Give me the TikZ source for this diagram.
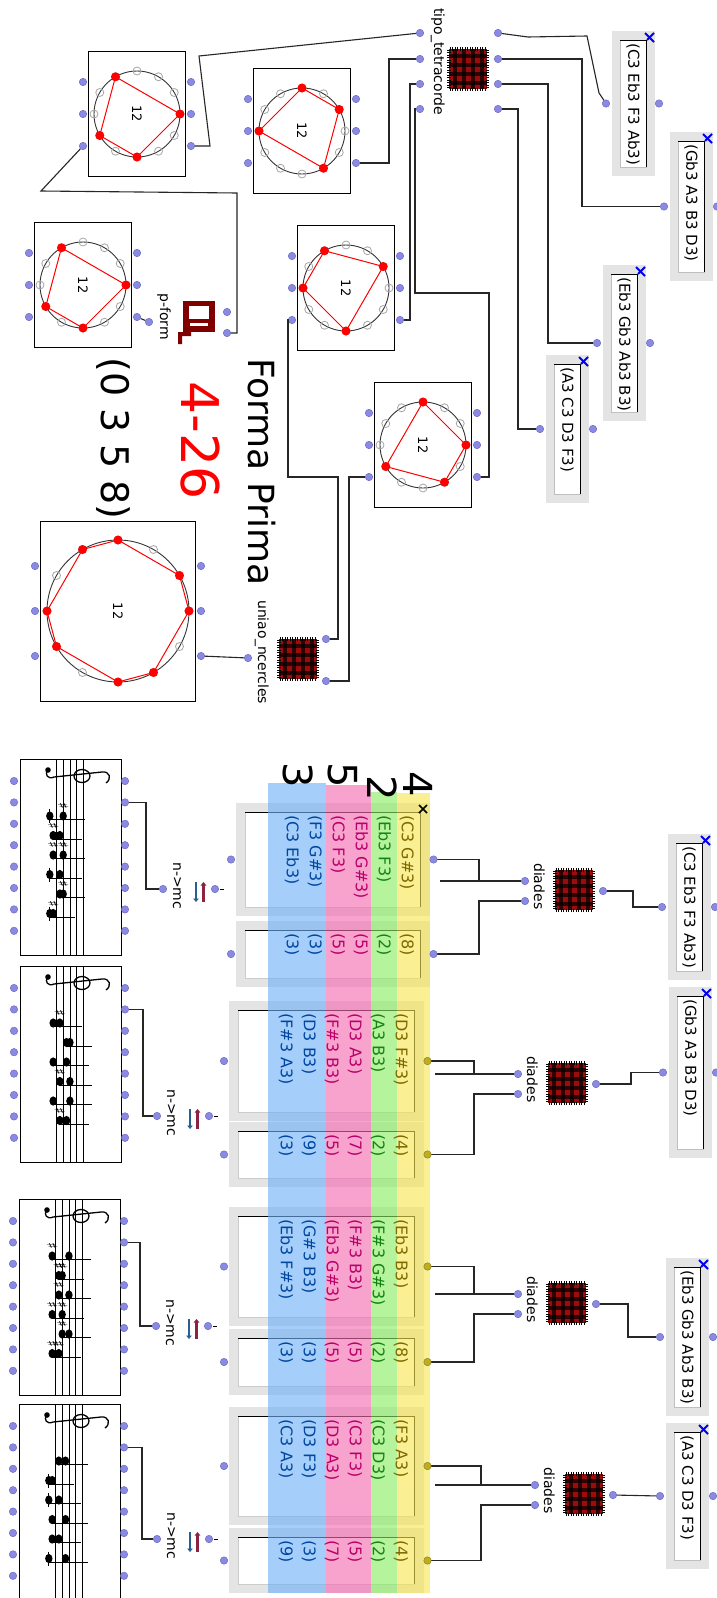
\documentclass[tikz,border=0pt]{standalone}
\usepackage{fontspec}
\setmainfont{DejaVu Sans}
\usetikzlibrary{arrows.meta}

\definecolor{portblue}{RGB}{138,138,226}
\definecolor{portedge}{RGB}{100,100,190}
\definecolor{portolive}{RGB}{190,172,35}
\definecolor{boxgray}{RGB}{228,228,228}
\definecolor{plaid}{RGB}{155,12,12}
\definecolor{pformred}{RGB}{128,0,0}
\definecolor{xblue}{RGB}{0,0,235}
\definecolor{bandY}{RGB}{247,230,80}
\definecolor{bandG}{RGB}{137,238,97}
\definecolor{bandP}{RGB}{245,105,177}
\definecolor{bandB}{RGB}{110,177,247}
\definecolor{txt1}{RGB}{125,105,0}
\definecolor{txt2}{RGB}{20,130,20}
\definecolor{txt3}{RGB}{185,0,105}
\definecolor{txt4}{RGB}{185,0,105}
\definecolor{txt5}{RGB}{0,70,160}
\definecolor{txt6}{RGB}{0,70,160}
\definecolor{arrowblue}{RGB}{40,95,145}
\definecolor{arrowred}{RGB}{140,35,65}

\pgfdeclarelayer{bands}
\pgfdeclarelayer{front}
\pgfsetlayers{main,bands,front}

\tikzset{
  port/.style={circle,fill=portblue,draw=portedge,line width=.4pt,inner sep=0pt,minimum size=7.5pt},
  oliveport/.style={port,fill=portolive,draw=portolive!70!black},
  wire/.style={draw=black!85,line width=1.1pt},
  vlabel/.style={rotate=-90,anchor=base west,inner sep=0pt,font=\fontsize{14}{16}\selectfont},
  vlist/.style={rotate=-90,anchor=north west,inner sep=0pt,font=\fontsize{15}{17}\selectfont},
  vdiad/.style={rotate=-90,anchor=west,inner sep=0pt,font=\fontsize{16}{18}\selectfont},
  vbig/.style={rotate=-90,anchor=base west,inner sep=0pt},
  sharpsign/.style={rotate=-90,inner sep=0pt,font=\fontsize{14}{14}\selectfont},
}

% tartan patch icon, top left corner
\newcommand\patchicon[2]{%
  \begin{scope}[shift={(#1,#2)}]
    \fill[plaid] (0,0) rectangle (38,40);
    \foreach \k in {6,15,24,33}{
      \fill[black,opacity=.7] (\k-1.6,0) rectangle (\k+1.6,40);
      \fill[black,opacity=.7] (0,\k+1-1.6) rectangle (38,\k+1+1.6);
    }
    \foreach \k in {1,3.5,...,37}
      \draw[line width=.7pt] (\k,-2) -- (\k,1.5) (\k,38.5) -- (\k,42);
    \foreach \k in {1,3.5,...,39}
      \draw[line width=.7pt] (-2,\k) -- (1.5,\k) (36.5,\k) -- (40,\k);
  \end{scope}}

% list editor: name, left, top, height, text
\newcommand\listbox[5]{%
  \fill[boxgray] (#2,#3) rectangle (#2+43,#3+#4);
  \fill[white,draw=black!25] (#2+8,#3+9) rectangle (#2+34,#3+#4-9);
  \draw[line width=1pt] (#2+8,#3+9) -- (#2+34,#3+9) -- (#2+34,#3+#4-9);
  \draw[xblue,line width=2pt] (#2+33,#3+2) -- (#2+42,#3+11) (#2+42,#3+2) -- (#2+35,#3+9);
  \node[vlist] (#1-t) at (#2+28,#3+12) {#5};
  \node[port] (#1-o) at (#2-6,#3+#4/2) {};
  \node[port] (#1-i) at (#2+47,#3+#4/2) {};
}

% pitch class circle: name, cx, cy, radius, half width, half height, port step, first pc, pcs
\newcommand\pcwidget[9]{%
  \draw[fill=white,line width=.9pt] (#2-#5,#3-#6) rectangle (#2+#5,#3+#6);
  \draw[black!80,line width=.9pt] (#2,#3) circle (#4);
  \foreach \k in {0,...,11}
    \draw[black!35,line width=.8pt] ([shift={(30*\k:#4)}]#2,#3) circle (4);
  \draw[red,line width=1pt] ([shift={(30*#8:#4)}]#2,#3)
    \foreach \pc in {#9}{ -- ([shift={(30*\pc:#4)}]#2,#3) } -- cycle;
  \foreach \pc in {#9}
    \fill[red] ([shift={(30*\pc:#4)}]#2,#3) circle (4.5);
  \node[rotate=-90,inner sep=0pt,font=\fontsize{13}{15}\selectfont] (#1-n) at (#2,#3) {12};
  \foreach \j/\d in {1/-1,2/0,3/1}{
    \node[port] (#1-l\j) at ({#2-#5-5.5},{#3+(\d)*#7}) {};
    \node[port] (#1-r\j) at ({#2+#5+5.5},{#3+(\d)*#7}) {};
  }
}

% diades box: name, icon left, icon top
\newcommand\diadesbox[3]{%
  \patchicon{#2}{#3}
  \node[vlabel] (#1-l) at (#2-21,#3-7) {diades};
  \node[port] (#1-o1) at (#2-30,#3+11) {};
  \node[port] (#1-o2) at (#2-30,#3+31) {};
  \node[port] (#1-i) at (#2+48,#3+21) {};
}

% list of dyads: name, left, top, right, bottom, input port style, entries
\newcommand\diadbox[7]{%
  \fill[boxgray] (#2,#3) rectangle (#4,#5);
  \fill[white,draw=black!20] (#2+9,#3+9) rectangle (#4-10,#5-9);
  \draw[line width=1pt] (#2+9,#3+9) -- (#4-10,#3+9) -- (#4-10,#5-9);
  \begin{pgfonlayer}{front}
    \foreach \t [count=\i] in {#7}
      \node[vdiad,text=txt\i] (#1-t\i) at (#4-23*\i,#3+12) {\t};
    \node[port] (#1-o) at (#2-5,{(#3+#5)/2}) {};
    \node[#6] (#1-i) at (#4+3.5,{(#3+#5)/2}) {};
  \end{pgfonlayer}
}

% n->mc box: name, output port x, y
\newcommand\nmcbox[3]{%
  \node[port] (#1-o) at (#2,#3) {};
  \node[vlabel] (#1-l) at (#2+10,#3-27) {n->mc};
  \draw[arrowblue,line width=2.6pt,-{Triangle[length=3.5pt,width=5.5pt]}] (#2+33,#3-7) -- (#2+33,#3+13);
  \draw[arrowred,line width=2.6pt,-{Triangle[length=3.5pt,width=5.5pt]}] (#2+40.5,#3+13) -- (#2+40.5,#3-7);
  \node[port] (#1-i) at (#2+52,#3) {};
  \draw[line width=.8pt] (#2+57,#3) -- (#2+61,#3);
}

% score: name, left, top, chords (step/step/sharp/sharp)
\newcommand\scorebox[4]{%
  \draw[fill=white,line width=.9pt] (#2,#3) rectangle (#2+101,#3+196);
  \foreach \k in {0,...,4}
    \draw[line width=.8pt] (#2+36.5+6.7*\k,#3) -- (#2+36.5+6.7*\k,#3+196);
  \fill (#2+28,#3+11) circle (2.8);
  \draw[line width=1.3pt] (#2+28,#3+11) .. controls (#2+24,#3+15) and (#2+28,#3+21) .. (#2+34,#3+18)
    -- (#2+82,#3+13) .. controls (#2+90,#3+12) and (#2+92,#3+20) .. (#2+86,#3+24);
  \draw[line width=1.3pt] (#2+62,#3+17) ellipse [x radius=8, y radius=6.5];
  \foreach \pa/\pb/\ha/\hb [count=\i from 0] in {#4}{
    \pgfmathsetmacro\yy{#3+57+19.5*\i}
    \pgfmathsetmacro\xa{#2+36.5+3.35*(\pa)}
    \pgfmathsetmacro\xb{#2+36.5+3.35*(\pb)}
    \fill (\xa,\yy) ellipse [x radius=3.7, y radius=4.6];
    \fill (\xb,\yy) ellipse [x radius=3.7, y radius=4.6];
    \draw[line width=.8pt] (\xa,\yy+3.8) -- (\xb+22,\yy+3.8);
    \ifnum\pa=-2 \draw[line width=.8pt] (\xa,\yy-7) -- (\xa,\yy+7); \fi
    \ifnum\ha=1 \node[sharpsign] (#1-ha\i) at (\xa,\yy-10) {♯}; \fi
    \ifnum\hb=1 \node[sharpsign] (#1-hb\i) at (\xb,\yy-10) {♯}; \fi
  }
  \foreach \j in {1,...,8}{
    \node[port] (#1-l\j) at (#2-6,#3+22+21.4*\j-21.4) {};
    \node[port] (#1-r\j) at (#2+105,#3+22+21.4*\j-21.4) {};
  }
}

\begin{document}
\begin{tikzpicture}[x=1pt,y=-1pt]
\useasboundingbox (0,0) rectangle (716,1598);
\fill[white] (0,0) rectangle (716,1598);

% ---- prime form patch
\listbox{lA}{612}{31}{145}{(C3 Eb3 F3 Ab3)}
\listbox{lB}{670}{132}{149}{(Gb3 A3 B3 D3)}
\listbox{lC}{603}{265}{156}{(Eb3 Gb3 Ab3 B3)}
\listbox{lD}{546}{355}{148}{(A3 C3 D3 F3)}

\patchicon{449}{49}
\node[vlabel] (tipo) at (434,8) {tipo\_tetracorde};
\foreach \j/\y in {1/33,2/59,3/84,4/109}{
  \node[port] (tipo-o\j) at (420,\y) {};
  \node[port] (tipo-i\j) at (498,\y) {};
}

\pcwidget{cA}{137}{114}{43}{48.5}{62.5}{32}{0}{0,3,5,8}
\pcwidget{cB}{302}{131}{43}{48.5}{62.5}{32}{2}{2,6,9,11}
\pcwidget{cC}{83}{285}{43}{48.5}{62.5}{32}{0}{0,3,5,8}
\pcwidget{cD}{346}{288}{43}{48.5}{62.5}{32}{3}{3,6,8,11}
\pcwidget{cE}{423}{445}{43}{48.5}{62.5}{32}{0}{0,2,5,9}
\pcwidget{cF}{118}{611}{71}{77.5}{90}{45}{0}{0,2,3,5,6,8,9,11}

% p-form
\fill[pformred] (183,301) rectangle (215,332);
\fill[white] (189,306) rectangle (209,319);
\fill[white] (190,323) rectangle (208,326);
\fill[pformred] (178,332) rectangle (191,336) (178,332) rectangle (182,344);
\node[vlabel] (pform) at (160,293) {p-form};
\node[port] (pform-i1) at (227,312) {};
\node[port] (pform-i2) at (227,333) {};
\node[port] (pform-o) at (149,322) {};

\node[vbig,font=\fontsize{36}{40}\selectfont] (titulo) at (248,358) {Forma Prima};
\node[vbig,font=\fontsize{52}{56}\selectfont,text=red] (nome) at (181,381) {4-26};
\node[vbig,font=\fontsize{38}{42}\selectfont] (pf) at (101,357) {(0 3 5 8)};

% uniao_ncercles
\patchicon{279}{639}
\node[vlabel] (uniao) at (258,600) {uniao\_ncercles};
\node[port] (union-o) at (248,658) {};
\node[port] (union-i1) at (326,639) {};
\node[port] (union-i2) at (326,681) {};

\draw[wire] (lA-o) -- (599,93) -- (587,36) -- (528,37) -- (tipo-i1);
\draw[wire] (lB-o) -| (582,59) -- (tipo-i2);
\draw[wire] (lC-o) -| (548,84) -- (tipo-i3);
\draw[wire] (lD-o) -| (518,109) -- (tipo-i4);
\draw[wire] (tipo-o1) -- (199,56) -- (210,146) -- (cA-r3);
\draw[wire] (tipo-o2) -| (389,163) -- (cB-r3);
\draw[wire] (tipo-o3) -| (410,320) -- (cD-r3);
\draw[wire] (tipo-o4) -| (415,293) -| (489,477) -- (cE-r3);
\draw[wire] (cA-l3) -- (41,191) -- (237,193) |- (pform-i2);
\draw[wire] (pform-o) -- (cC-r3);
\draw[wire] (cD-l3) -| (288,477) -| (338,639) -- (union-i1);
\draw[wire] (cE-l3) -| (349,681) -- (union-i2);
\draw[wire] (union-o) -- (cF-r3);

% ---- dyads patch
\listbox{bA}{668}{834}{146}{(C3 Eb3 F3 Ab3)}
\listbox{bB}{669}{987}{171}{(Gb3 A3 B3 D3)}
\listbox{bC}{666}{1258}{158}{(Eb3 Gb3 Ab3 B3)}
\listbox{bD}{666}{1423}{146}{(A3 C3 D3 F3)}

\diadesbox{dA}{555}{870}
\diadesbox{dB}{548}{1063}
\diadesbox{dC}{548}{1283}
\diadesbox{dD}{565}{1474}

\diadbox{g1b}{236}{803}{430}{916}{port}{(C3 G\#3),(Eb3 F3),(Eb3 G\#3),(C3 F3),(F3 G\#3),(C3 Eb3)}
\diadbox{g1s}{236}{921}{430}{987}{port}{(8),(2),(5),(5),(3),(3)}
\diadbox{g2b}{229}{1001}{424}{1121}{oliveport}{(D3 F\#3),(A3 B3),(D3 A3),(F\#3 B3),(D3 B3),(F\#3 A3)}
\diadbox{g2s}{229}{1122}{424}{1187}{oliveport}{(4),(2),(7),(5),(9),(3)}
\diadbox{g3b}{229}{1207}{424}{1326}{oliveport}{(Eb3 B3),(F\#3 G\#3),(F\#3 B3),(Eb3 G\#3),(G\#3 B3),(Eb3 F\#3)}
\diadbox{g3s}{229}{1329}{424}{1395}{oliveport}{(8),(2),(5),(5),(3),(3)}
\diadbox{g4b}{229}{1407}{424}{1525}{oliveport}{(F3 A3),(C3 D3),(C3 F3),(D3 A3),(D3 F3),(C3 A3)}
\diadbox{g4s}{229}{1528}{424}{1593}{oliveport}{(4),(2),(5),(7),(3),(9)}

\begin{pgfonlayer}{bands}
  \fill[bandB,opacity=.62] (268,783) rectangle (326,1593);
  \fill[bandP,opacity=.62] (326,785) rectangle (371,1593);
  \fill[bandG,opacity=.62] (371,792) rectangle (397,1593);
  \fill[bandY,opacity=.62] (397,793) rectangle (430,1593);
\end{pgfonlayer}
\begin{pgfonlayer}{front}
  \node[vbig,font=\fontsize{40}{40}\selectfont] (ic3) at (283,762) {3};
  \node[vbig,font=\fontsize{40}{40}\selectfont] (ic5) at (328,762) {5};
  \node[vbig,font=\fontsize{40}{40}\selectfont] (ic2) at (367,775) {2};
  \node[vbig,font=\fontsize{40}{40}\selectfont] (ic4) at (403,771) {4};
  \draw[line width=1.6pt] (419,805) -- (427,813) (427,805) -- (419,813);
\end{pgfonlayer}

\coordinate (hA) at (440,881);
\coordinate (hB) at (435,1074);
\coordinate (hC) at (435,1294);
\coordinate (hD) at (435,1485);

\draw[wire] (bA-o) -- ++(-29,0) |- (dA-i);
\draw[wire] (bB-o) -- ++(-32,0) |- (dB-i);
\draw[wire] (bC-o) -- ++(-32,0) |- (dC-i);
\draw[wire] (bD-o) -- (dD-i);
\draw[wire] (dA-o1) -- (hA);
\draw[wire] (dA-o1) -- ++(-46,0) |- (g1b-i);
\draw[wire] (dA-o2) -- ++(-46,0) |- (g1s-i);
\draw[wire] (dB-o1) -- (hB);
\draw[wire] (dB-o1) -- ++(-44,0) |- (g2b-i);
\draw[wire] (dB-o2) -- ++(-44,0) |- (g2s-i);
\draw[wire] (dC-o1) -- (hC);
\draw[wire] (dC-o1) -- ++(-44,0) |- (g3b-i);
\draw[wire] (dC-o2) -- ++(-44,0) |- (g3s-i);
\draw[wire] (dD-o1) -- (hD);
\draw[wire] (dD-o1) -- ++(-54,0) |- (g4b-i);
\draw[wire] (dD-o2) -- ++(-54,0) |- (g4s-i);

\nmcbox{mA}{163}{889}
\nmcbox{mB}{157}{1116}
\nmcbox{mC}{156}{1326}
\nmcbox{mD}{157}{1539}

\scorebox{sA}{20}{759}{-2/2/0/1,-1/1/1/0,-1/2/1/1,-2/1/0/0,1/2/0/1,-2/-1/0/1}
\scorebox{sB}{20}{966}{-1/1/0/1,3/4/0/0,-1/3/0/0,1/4/1/0,-1/4/0/0,1/3/1/0}
\scorebox{sC}{19}{1199}{-1/4/1/0,1/2/1/1,1/4/1/0,-1/2/1/1,2/4/1/0,-1/1/1/1}
\scorebox{sD}{19}{1404}{1/3/0/0,-2/-1/0/0,-2/1/0/0,-1/3/0/0,-1/1/0/0,-2/3/0/0}

\draw[wire] (mA-o) -- ++(-17,0) |- (sA-r2);
\draw[wire] (mB-o) -- ++(-14,0) |- (sB-r2);
\draw[wire] (mC-o) -- ++(-16,0) |- (sC-r2);
\draw[wire] (mD-o) -- ++(-15,0) |- (sD-r2);
\end{tikzpicture}
\end{document}
